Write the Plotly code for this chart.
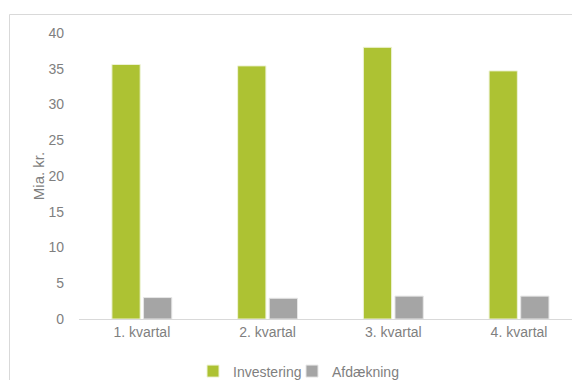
import plotly.graph_objects as go

categories = ["1. kvartal", "2. kvartal", "3. kvartal", "4. kvartal"]
investering = [35.6, 35.4, 38.0, 34.7]
afdaekning = [3.0, 2.9, 3.2, 3.2]
y_ticks = [0, 5, 10, 15, 20, 25, 30, 35, 40]

FONT = "Liberation Sans, Arial, sans-serif"
TXT = "#7f7f7f"

# the page body has an 8px margin, so figure coords = page coords - 8
OFF = 8
W, H = 580 - OFF, 380 - OFF
L, R, T = 79 - OFF, 0, 33 - OFF
B = H - (319 - OFF)
PW, PH = W - L - R, H - T - B

fig = go.Figure()
fig.add_trace(go.Bar(name="Investering", x=categories, y=investering, legendwidth=54,
                     marker=dict(color="#adc233", line=dict(color="#eef3d6", width=1))))
fig.add_trace(go.Bar(name="Afdækning", x=categories, y=afdaekning,
                     marker=dict(color="#a5a5a5", line=dict(color="#e6e6e6", width=1))))

fig.update_layout(
    width=W, height=H,
    margin=dict(l=L, r=R, t=T, b=B, autoexpand=False),
    paper_bgcolor="white", plot_bgcolor="white",
    barmode="group", bargap=0.497, bargroupgap=0.106,
    font=dict(family=FONT, size=14, color=TXT),
    showlegend=True,
    legend=dict(orientation="h", x=(193 - 79) / PW, xanchor="left",
                y=(319 - 371.5) / PH, yanchor="middle",
                font=dict(size=14, color=TXT), traceorder="normal",
                bgcolor="rgba(0,0,0,0)"),
    xaxis=dict(range=[-0.5, 3.485], showline=True, linecolor="#d9d9d9", linewidth=1,
               ticks="", showgrid=False, zeroline=False, fixedrange=True,
               tickfont=dict(size=14, color=TXT)),
    yaxis=dict(range=[0, 40], tickvals=y_ticks, showgrid=False, zeroline=False,
               showline=False, ticks="", ticklabelstandoff=14,
               title=dict(text="Mia. kr.", font=dict(size=15, color=TXT), standoff=0),
               tickfont=dict(size=14, color=TXT)),
)
fig.add_shape(type="rect", xref="paper", yref="paper",
              x0=(9.5 - 79) / PW, x1=1.2, y0=-0.6, y1=(319 - 14.5) / PH,
              line=dict(color="#d9d9d9", width=1), fillcolor="rgba(0,0,0,0)", layer="below")

fig.write_html("out.html")
